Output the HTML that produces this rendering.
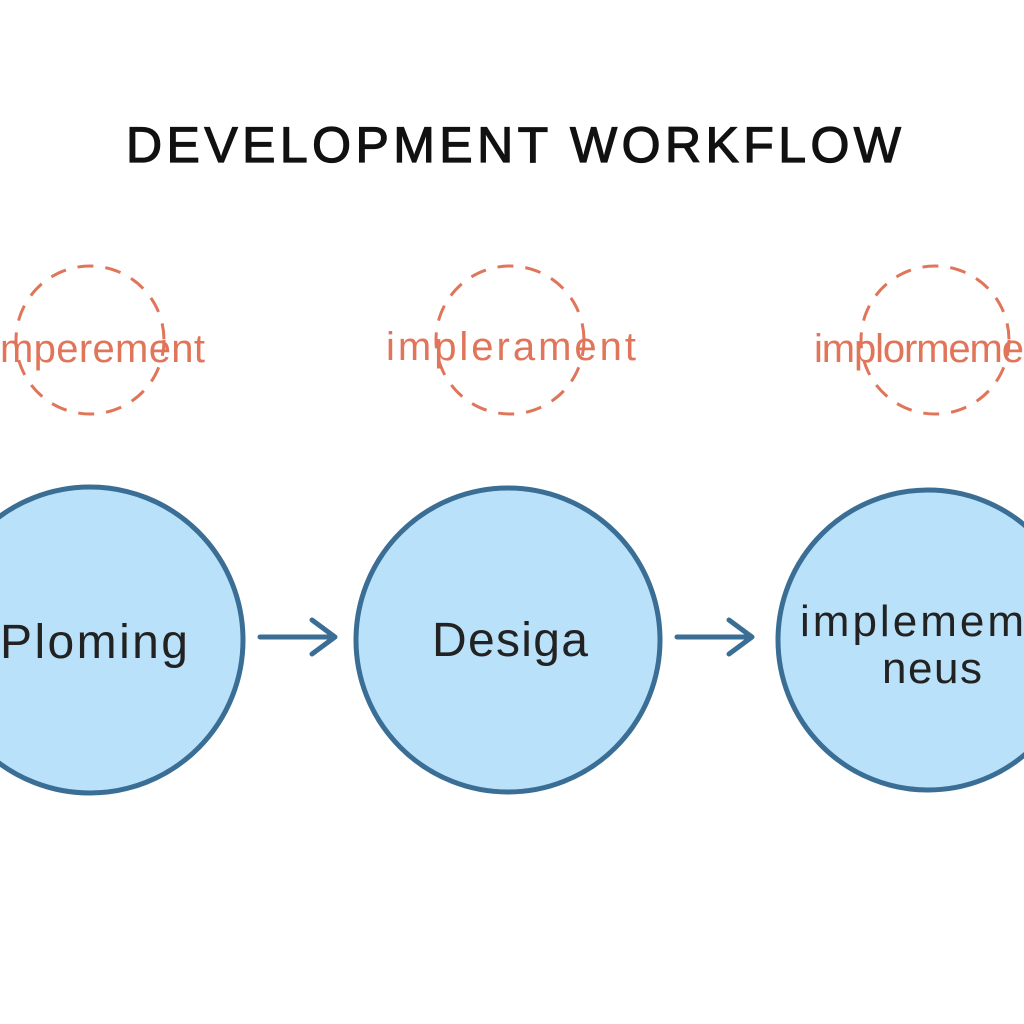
<!DOCTYPE html>
<html><head><meta charset="utf-8"><style>
html,body{margin:0;padding:0;background:#fff;width:1024px;height:1024px;overflow:hidden}
</style></head><body>
<svg width="1024" height="1024" viewBox="0 0 1024 1024" xmlns="http://www.w3.org/2000/svg">
<text x="126" y="162" font-family="Liberation Sans, sans-serif" font-size="50" fill="#111" stroke="#111" stroke-width="1.2" textLength="775">DEVELOPMENT WORKFLOW</text>
<g fill="none" stroke="#e0755a" stroke-width="3" stroke-dasharray="16 12">
<circle cx="90" cy="340" r="74"/>
<circle cx="510" cy="340" r="74"/>
<circle cx="935" cy="340" r="74"/>
</g>
<g font-family="Liberation Sans, sans-serif" font-size="40" fill="#e0755a">
<text x="0" y="362" textLength="205">mperement</text>
<text x="386" y="360" textLength="250">implerament</text>
<text x="814" y="362" textLength="210">implormeme</text>
</g>
<g fill="#b9e1fa" stroke="#3b6e95" stroke-width="5">
<circle cx="90" cy="640" r="153"/>
<circle cx="508" cy="640" r="152"/>
<circle cx="928" cy="640" r="150"/>
</g>
<g fill="none" stroke="#3b6e95" stroke-width="5" stroke-linecap="round" stroke-linejoin="round">
<path d="M260 637 L333 637 M312 620 L335 637 L312 654"/>
<path d="M677 637 L750 637 M729 620 L752 637 L729 654"/>
</g>
<g font-family="Liberation Sans, sans-serif" font-size="48" fill="#222">
<text x="0" y="658" textLength="188">Ploming</text>
<text x="432" y="656" textLength="156">Desiga</text>
<text x="800" y="636" font-size="44" textLength="224">implemem</text>
<text x="882" y="683" font-size="44" textLength="100">neus</text>
</g>
</svg>
</body></html>
